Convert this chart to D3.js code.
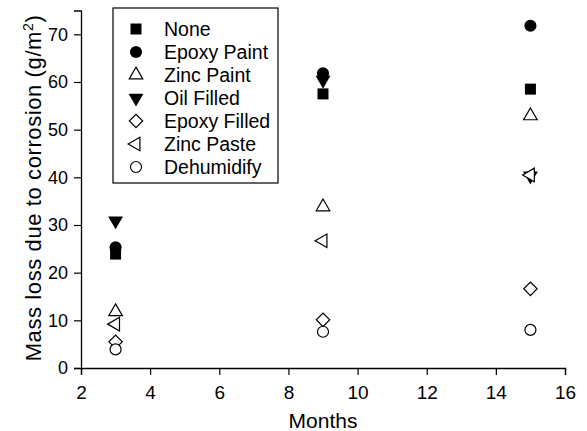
<!DOCTYPE html>
<html>
<head>
<meta charset="utf-8">
<script src="https://cdn.jsdelivr.net/npm/d3@7"></script>
<style>
  body { margin: 0; background: #fff; }
  text { font-family: "Liberation Sans", Arial, sans-serif; fill: #000; }
</style>
</head>
<body>
<svg id="chart" width="587" height="431"></svg>
<script>
// data
const months = [3, 9, 15];
const seriesNames = ["None", "Epoxy Paint", "Zinc Paint", "Oil Filled", "Epoxy Filled", "Zinc Paste", "Dehumidify"];
const none = [23.9, 57.5, 58.5];
const epoxyPaint = [25.3, 61.8, 71.8];
const zincPaint = [11.8, 33.8, 52.9];
const oilFilled = [30.9, 60.4, 40.3];
const epoxyFilled = [5.5, 10.1, 16.6];
const zincPaste = [9.2, 26.7, 40.5];
const dehumidify = [3.9, 7.6, 8.0];
const xTicks = [2, 4, 6, 8, 10, 12, 14, 16];
const yTicks = [0, 10, 20, 30, 40, 50, 60, 70];

const seriesValues = [none, epoxyPaint, zincPaint, oilFilled, epoxyFilled, zincPaste, dehumidify];

// marker style per series: shape, rotation, filled
const markers = [
    { type: d3.symbolSquare, size: 121, rot: 0, filled: true },
    { type: d3.symbolCircle, size: 115, rot: 0, filled: true },
    { type: d3.symbolTriangle, size: 80, rot: 0, filled: false },
    { type: d3.symbolTriangle, size: 95, rot: 180, filled: true },
    { type: d3.symbolSquare, size: 90, rot: 45, filled: false },
    { type: d3.symbolTriangle, size: 80, rot: -90, filled: false },
    { type: d3.symbolCircle, size: 95, rot: 0, filled: false }
];

const svg = d3.select("#chart");

const x = d3.scaleLinear().domain([2, 16]).range([81, 565]);
const y = d3.scaleLinear().domain([0, 75]).range([368, 368 - 75 * 4.767]);

// x axis
const xAxis = svg.append("g").attr("transform", "translate(0,368)");
xAxis.call(d3.axisBottom(x).tickValues(d3.range(3, 16, 2)).tickSize(4).tickFormat(""));
xAxis.call(d3.axisBottom(x).tickValues(xTicks).tickSize(7).tickPadding(11).tickFormat(d3.format("d")));
xAxis.selectAll("text").style("font-size", "19px");

// y axis
const yAxis = svg.append("g").attr("transform", "translate(81,0)");
yAxis.call(d3.axisLeft(y).tickValues(d3.range(5, 75, 10)).tickSize(4).tickFormat(""));
yAxis.call(d3.axisLeft(y).tickValues(yTicks).tickSize(7).tickPadding(6).tickFormat(d3.format("d")));
yAxis.selectAll("text").style("font-size", "18px");

svg.selectAll(".domain").attr("stroke", "#000").attr("stroke-width", 1.3);
svg.selectAll(".tick line").attr("stroke", "#000").attr("stroke-width", 1.2);

// axis titles
svg.append("text")
    .attr("x", x(9))
    .attr("y", 428)
    .attr("text-anchor", "middle")
    .style("font-size", "21px")
    .text("Months");

const yTitle = svg.append("text")
    .attr("transform", "translate(41,188) rotate(-90)")
    .attr("text-anchor", "middle")
    .style("font-size", "22px")
    .style("letter-spacing", "0.6px");
yTitle.append("tspan").text("Mass loss due to corrosion (g/m");
yTitle.append("tspan").attr("dy", -8).style("font-size", "14px").text("2");
yTitle.append("tspan").attr("dy", 8).text(")");

// points
const points = svg.append("g");
seriesValues.forEach((vals, i) => {
    const m = markers[i];
    points.selectAll(null)
        .data(vals.map((v, j) => ({ month: months[j], value: v })))
        .join("path")
        .attr("d", d3.symbol().type(m.type).size(m.size))
        .attr("transform", d => `translate(${x(d.month)},${y(d.value)}) rotate(${m.rot})`)
        .attr("fill", m.filled ? "#000" : "#fff")
        .attr("stroke", "#000")
        .attr("stroke-width", m.filled ? 0 : 1.2);
});

// legend
const legend = svg.append("g");
legend.append("rect")
    .attr("x", 113).attr("y", 8)
    .attr("width", 165).attr("height", 175)
    .attr("fill", "#fff")
    .attr("stroke", "#000")
    .attr("stroke-width", 1.2);

const rowY = d3.scalePoint().domain(seriesNames).range([29, 167]);
seriesNames.forEach((name, i) => {
    const m = markers[i];
    legend.append("path")
        .attr("d", d3.symbol().type(m.type).size(m.size))
        .attr("transform", `translate(136,${rowY(name)}) rotate(${m.rot})`)
        .attr("fill", m.filled ? "#000" : "#fff")
        .attr("stroke", "#000")
        .attr("stroke-width", m.filled ? 0 : 1.2);
    legend.append("text")
        .attr("x", 164)
        .attr("y", rowY(name))
        .attr("dy", "0.36em")
        .style("font-size", "19.5px")
        .text(name);
});
</script>
</body>
</html>
